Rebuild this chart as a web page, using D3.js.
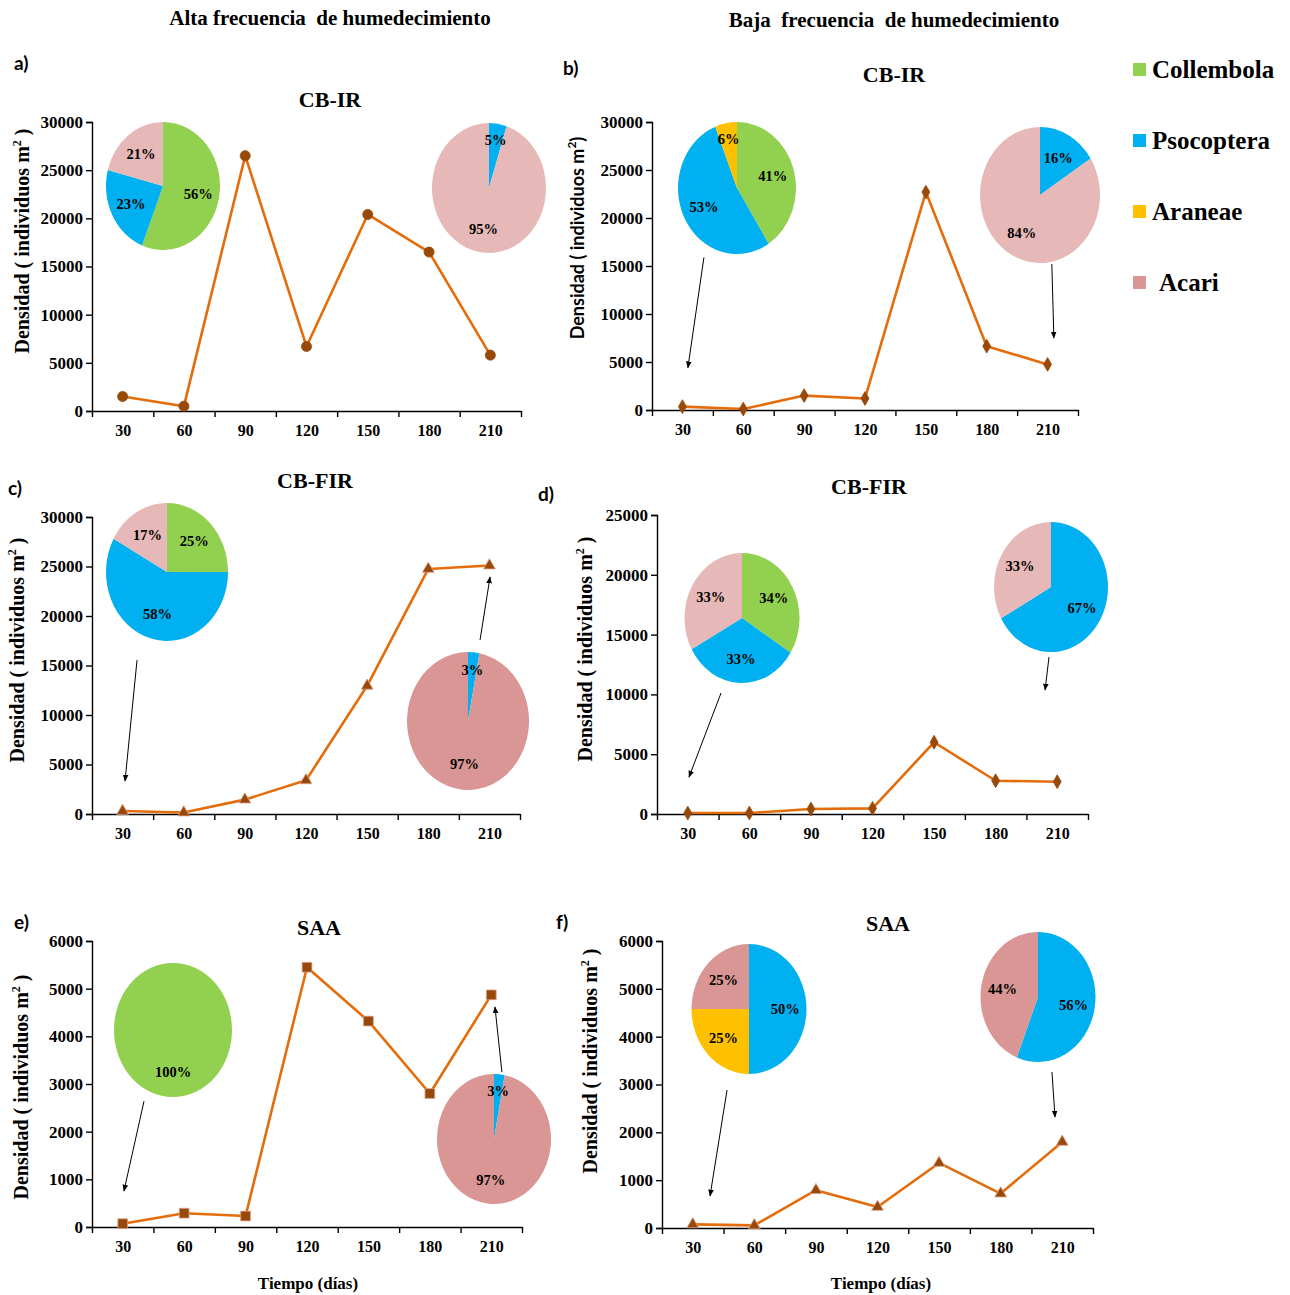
<!DOCTYPE html>
<html>
<head>
<meta charset="utf-8">
<script src="https://cdn.jsdelivr.net/npm/d3@7"></script>
<style>
  body { margin: 0; background: #fff; }
  svg { display: block; }
</style>
</head>
<body>
<svg id="chart" width="1290" height="1295"></svg>
<script>
// ---- Datos ----
const days = [30, 60, 90, 120, 150, 180, 210];
const taxa = ["Collembola", "Psocoptera", "Araneae", "Acari"];

// Densidad (individuos m²) por fecha de muestreo
const densAltaCBIR  = [1500, 500, 26500, 6700, 20400, 16500, 5800];
const densBajaCBIR  = [350, 100, 1500, 1200, 22700, 6650, 4750];
const densAltaCBFIR = [300, 150, 1450, 3400, 12950, 24750, 25100];
const densBajaCBFIR = [80, 80, 420, 470, 6000, 2780, 2700];
const densAltaSAA   = [70, 290, 230, 5450, 4320, 2800, 4870];
const densBajaSAA   = [75, 55, 790, 440, 1360, 720, 1800];

// Composición (%) por taxón, en el orden de `taxa`
const compAltaCBIR30   = [56, 23, 0, 21];
const compAltaCBIR210  = [0, 5, 0, 95];
const compBajaCBIR30   = [41, 53, 6, 0];
const compBajaCBIR210  = [0, 16, 0, 84];
const compAltaCBFIR30  = [25, 58, 0, 17];
const compAltaCBFIR210 = [0, 3, 0, 97];
const compBajaCBFIR30  = [34, 33, 0, 33];
const compBajaCBFIR210 = [0, 67, 0, 33];
const compAltaSAA30    = [100, 0, 0, 0];
const compAltaSAA210   = [0, 3, 0, 97];
const compBajaSAA30    = [0, 50, 25, 25];
const compBajaSAA210   = [0, 56, 0, 44];

const yTicks30k = [0, 5000, 10000, 15000, 20000, 25000, 30000];
const yTicks25k = [0, 5000, 10000, 15000, 20000, 25000];
const yTicks6k  = [0, 1000, 2000, 3000, 4000, 5000, 6000];

// ---- Estilo ----
const taxaColors = ["#92D050", "#00B0F0", "#FFC000", "#D99694"];
const acariLight = "#E6B8B7";
const lineColor = "#E46C0A";
const markerColor = "#984807";
const serif = "'Liberation Serif', 'Times New Roman', serif";
const sans = "Lato, 'Liberation Sans', sans-serif";

// ---- Disposición de los paneles ----
const panels = [
  { tag: "a)", tagPos: [14, 70], title: "CB-IR", titlePos: [330, 107],
    values: densAltaCBIR, symbol: d3.symbolCircle, symSize: 80,
    xr: [92, 521], yr: [411, 122], yMax: 30000, ticks: yTicks30k,
    yTitle: { x: 22, y: 241, sans: false },
    pies: [ { comp: compAltaCBIR30,  cx: 163, cy: 186, rx: 57, ry: 64, light: true },
            { comp: compAltaCBIR210, cx: 489, cy: 188, rx: 57, ry: 65, light: true } ],
    arrows: [] },
  { tag: "b)", tagPos: [563, 75], title: "CB-IR", titlePos: [894, 82],
    values: densBajaCBIR, symbol: d3.symbolDiamond, symSize: 55,
    xr: [652, 1078], yr: [410, 122], yMax: 30000, ticks: yTicks30k,
    yTitle: { x: 578, y: 238, sans: true },
    pies: [ { comp: compBajaCBIR30,  cx: 737, cy: 188, rx: 59, ry: 66, light: true },
            { comp: compBajaCBIR210, cx: 1040, cy: 195, rx: 60, ry: 68, light: true } ],
    arrows: [ { from: [40.6, 15900], to: [32.7, 4400] },
              { from: [212.1, 15200], to: [213.1, 7500] } ] },
  { tag: "c)", tagPos: [8, 495], title: "CB-FIR", titlePos: [315, 488],
    values: densAltaCBFIR, symbol: d3.symbolTriangle, symSize: 60,
    xr: [92, 520], yr: [814, 517], yMax: 30000, ticks: yTicks30k,
    yTitle: { x: 17, y: 650, sans: false },
    pies: [ { comp: compAltaCBFIR30,  cx: 167, cy: 572, rx: 61, ry: 69, light: true },
            { comp: compAltaCBFIR210, cx: 468, cy: 721, rx: 61, ry: 69, light: false } ],
    arrows: [ { from: [37.1, 15550], to: [31.2, 3330] },
              { from: [205.4, 17580], to: [210.3, 23940] } ] },
  { tag: "d)", tagPos: [538, 501], title: "CB-FIR", titlePos: [869, 494],
    values: densBajaCBFIR, symbol: d3.symbolDiamond, symSize: 55,
    xr: [657, 1088], yr: [814, 515], yMax: 25000, ticks: yTicks25k,
    yTitle: { x: 585, y: 649, sans: false },
    pies: [ { comp: compBajaCBFIR30,  cx: 742, cy: 618, rx: 57.5, ry: 65, light: true },
            { comp: compBajaCBFIR210, cx: 1051, cy: 587, rx: 57, ry: 65, light: true } ],
    arrows: [ { from: [46.2, 10120], to: [30.6, 3090] },
              { from: [206, 13130], to: [204.1, 10370] } ] },
  { tag: "e)", tagPos: [14, 929], title: "SAA", titlePos: [319, 935],
    values: densAltaSAA, symbol: d3.symbolSquare, symSize: 95,
    xr: [92, 522], yr: [1227, 941], yMax: 6000, ticks: yTicks6k,
    yTitle: { x: 21, y: 1087, sans: false }, xTitle: [308, 1289],
    pies: [ { comp: compAltaSAA30,  cx: 173, cy: 1030, rx: 59, ry: 67, light: false },
            { comp: compAltaSAA210, cx: 494, cy: 1139, rx: 57, ry: 65, light: false } ],
    arrows: [ { from: [40.4, 2640], to: [30.6, 755] },
              { from: [215.2, 3250], to: [211.8, 4615] } ] },
  { tag: "f)", tagPos: [556, 929], title: "SAA", titlePos: [888, 931],
    values: densBajaSAA, symbol: d3.symbolTriangle, symSize: 60,
    xr: [662, 1093], yr: [1228, 941], yMax: 6000, ticks: yTicks6k,
    yTitle: { x: 590, y: 1061, sans: false }, xTitle: [881, 1289],
    pies: [ { comp: compBajaSAA30,  cx: 749, cy: 1009, rx: 57.5, ry: 65, light: false },
            { comp: compBajaSAA210, cx: 1038, cy: 997, rx: 57.5, ry: 65, light: false } ],
    arrows: [ { from: [46.7, 2885], to: [38.4, 670] },
              { from: [205, 3260], to: [206.5, 2320] } ] }
];

const svg = d3.select("#chart");

// punta de flecha para las anotaciones
svg.append("defs").append("marker")
  .attr("id", "arrowhead")
  .attr("viewBox", "0 0 10 10")
  .attr("refX", 9).attr("refY", 5)
  .attr("markerWidth", 7).attr("markerHeight", 7)
  .attr("markerUnits", "userSpaceOnUse")
  .attr("orient", "auto")
  .append("path").attr("d", "M0,1 L10,5 L0,9 Z").attr("fill", "#000");

// encabezados de columna
svg.append("text").attr("x", 330).attr("y", 25)
  .attr("text-anchor", "middle").style("white-space", "pre")
  .attr("font-family", serif).attr("font-weight", "bold").attr("font-size", 21)
  .text("Alta frecuencia  de humedecimiento");
svg.append("text").attr("x", 894).attr("y", 27)
  .attr("text-anchor", "middle").style("white-space", "pre")
  .attr("font-family", serif).attr("font-weight", "bold").attr("font-size", 21)
  .text("Baja  frecuencia  de humedecimiento");

// leyenda
const legend = svg.append("g").attr("transform", "translate(1133,63)");
taxa.forEach((name, i) => {
  const row = legend.append("g").attr("transform", `translate(0,${i * 71})`);
  row.append("rect").attr("width", 13).attr("height", 13).attr("fill", taxaColors[i]);
  row.append("text").attr("x", name === "Acari" ? 26 : 19).attr("y", 15)
    .attr("font-family", serif).attr("font-weight", "bold").attr("font-size", 25)
    .text(name);
});

const arcGen = d3.arc().innerRadius(0).outerRadius(100);
const pieGen = d3.pie().sort(null).value(d => d.v);

function drawPie(g, p) {
  const arcs = pieGen(p.comp.map((v, i) => ({ v, i }))).filter(a => a.data.v > 0);
  const pg = g.append("g").attr("transform", `translate(${p.cx},${p.cy})`);
  pg.append("g").attr("transform", `scale(${p.rx / 100},${p.ry / 100})`)
    .selectAll("path").data(arcs).join("path")
    .attr("d", arcGen)
    .attr("fill", a => (a.data.i === 3 && p.light) ? acariLight : taxaColors[a.data.i]);
  const pos = (a, trig, r) => {
    const m = (a.startAngle + a.endAngle) / 2, f = a.data.v < 8 ? 0.75 : 0.63;
    return trig(m) * r * f;
  };
  pg.selectAll("text").data(arcs).join("text")
    .attr("x", a => pos(a, Math.sin, p.rx))
    .attr("y", a => pos(a, m => -Math.cos(m), p.ry))
    .attr("dy", "0.35em").attr("text-anchor", "middle")
    .attr("font-family", serif).attr("font-weight", "bold").attr("font-size", 14.5)
    .text(a => a.data.v + "%");
}

panels.forEach(pn => {
  const g = svg.append("g");
  const x = d3.scaleLinear().domain([15, 225]).range(pn.xr);
  const y = d3.scaleLinear().domain([0, pn.yMax]).range(pn.yr);
  const y0 = pn.yr[0];

  // eje Y
  const ya = g.append("g").attr("transform", `translate(${pn.xr[0]},0)`)
    .call(d3.axisLeft(y).tickValues(pn.ticks).tickSize(6).tickPadding(3)
      .tickFormat(d3.format("d")));
  ya.select(".domain").attr("stroke-width", 1.4);
  ya.selectAll(".tick line").attr("stroke-width", 1.4);
  ya.selectAll("text").attr("font-family", serif).attr("font-weight", "bold")
    .attr("font-size", 17).attr("fill", "#000");

  // eje X: marcas en los límites de cada intervalo, etiquetas en el centro
  const bounds = days.map(d => d - 15).concat([days[days.length - 1] + 15]);
  const xa = g.append("g").attr("transform", `translate(0,${y0})`)
    .call(d3.axisBottom(x).tickValues(bounds).tickSize(6).tickSizeOuter(0).tickFormat(""));
  xa.select(".domain").attr("stroke-width", 1.4);
  xa.selectAll(".tick line").attr("stroke-width", 1.4);
  const xl = g.append("g").attr("transform", `translate(0,${y0})`)
    .call(d3.axisBottom(x).tickValues(days).tickSize(0).tickPadding(14));
  xl.select(".domain").remove();
  xl.selectAll("text").attr("font-family", serif).attr("font-weight", "bold")
    .attr("font-size", 16).attr("fill", "#000");

  // serie de densidad
  const pts = days.map((d, i) => [d, pn.values[i]]);
  g.append("path").datum(pts)
    .attr("fill", "none").attr("stroke", lineColor).attr("stroke-width", 2.6)
    .attr("stroke-linejoin", "round")
    .attr("d", d3.line().x(d => x(d[0])).y(d => y(d[1])));
  g.selectAll(".pt").data(pts).join("path")
    .attr("class", "pt")
    .attr("transform", d => `translate(${x(d[0])},${y(d[1])})`)
    .attr("d", d3.symbol().type(pn.symbol).size(pn.symSize))
    .attr("fill", markerColor)
    .attr("stroke", pn.symbol === d3.symbolCircle || pn.symbol === d3.symbolDiamond ? markerColor : "#D9A08F")
    .attr("stroke-width", 0.8);

  // tartas de composición
  pn.pies.forEach(p => drawPie(g, p));

  // flechas
  pn.arrows.forEach(a => {
    g.append("line")
      .attr("x1", x(a.from[0])).attr("y1", y(a.from[1]))
      .attr("x2", x(a.to[0])).attr("y2", y(a.to[1]))
      .attr("stroke", "#000").attr("stroke-width", 1)
      .attr("marker-end", "url(#arrowhead)");
  });

  // títulos
  g.append("text").attr("x", pn.titlePos[0]).attr("y", pn.titlePos[1])
    .attr("text-anchor", "middle").attr("font-family", serif)
    .attr("font-weight", "bold").attr("font-size", 22).text(pn.title);
  g.append("text").attr("x", pn.tagPos[0]).attr("y", pn.tagPos[1])
    .attr("font-family", sans).attr("font-weight", "bold").attr("font-size", 19)
    .text(pn.tag);

  const yt = g.append("text")
    .attr("transform", `translate(${pn.yTitle.x},${pn.yTitle.y}) rotate(-90)`)
    .attr("text-anchor", "middle").attr("dy", "0.35em")
    .style("white-space", "pre")
    .attr("font-family", pn.yTitle.sans ? sans : serif)
    .attr("font-weight", "bold").attr("font-size", pn.yTitle.sans ? 18 : 20);
  yt.append("tspan").text("Densidad ( individuos m");
  yt.append("tspan").attr("dy", -8).attr("font-size", 12).text("2");
  yt.append("tspan").attr("dy", 8).text(pn.yTitle.sans ? ")" : " )");

  if (pn.xTitle) {
    g.append("text").attr("x", pn.xTitle[0]).attr("y", pn.xTitle[1])
      .attr("text-anchor", "middle").attr("font-family", serif)
      .attr("font-weight", "bold").attr("font-size", 17).text("Tiempo (días)");
  }
});
</script>
</body>
</html>
